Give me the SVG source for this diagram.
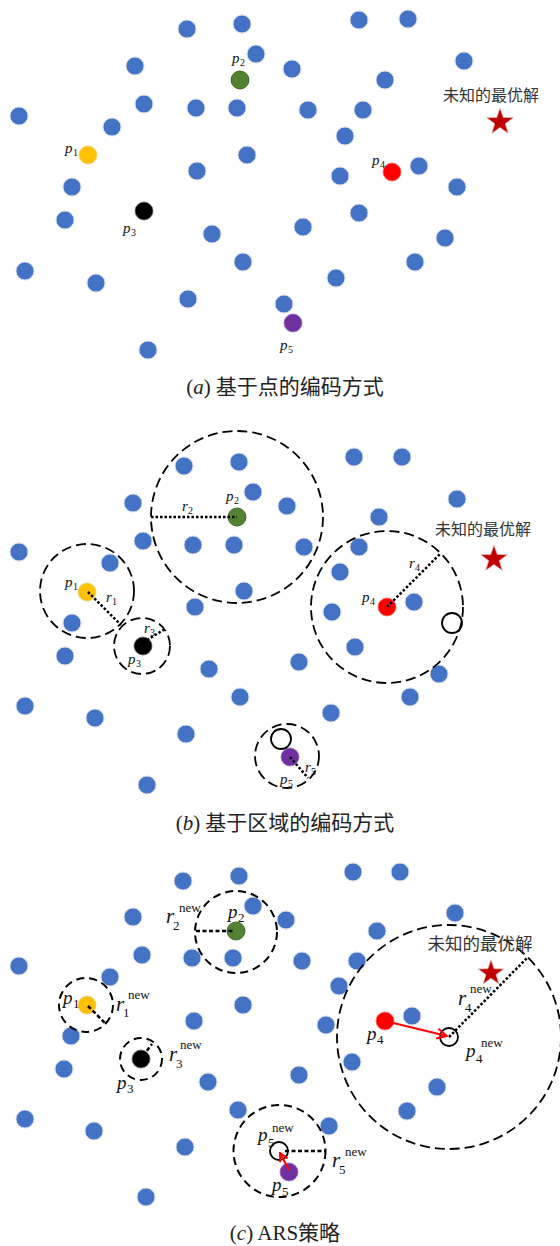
<svg xmlns="http://www.w3.org/2000/svg" width="560" height="1246" viewBox="0 0 560 1246">
<style>
.b{fill:#4472C4;stroke:#d3dbe9;stroke-width:1}
.g{fill:#548235;stroke:#3f6a27;stroke-width:1}
.y{fill:#FFC000;stroke:#f3d27a;stroke-width:1}
.r{fill:#FF0000;stroke:#ff6a6a;stroke-width:0.8}
.pu{fill:#7030A0;stroke:#9a6ac0;stroke-width:0.8}
.k{fill:#000;stroke:#666;stroke-width:0.8}
.o{fill:none;stroke:#000;stroke-width:1.8}
.dc{fill:none;stroke:#000;stroke-width:1.8;stroke-dasharray:10 5}
.dcs{fill:none;stroke:#000;stroke-width:2;stroke-dasharray:8 5}
.dt{stroke:#000;stroke-width:2.5;stroke-dasharray:2.5 2;fill:none}
.ds{stroke:#000;stroke-width:2.5;stroke-dasharray:4 2.5;fill:none}
.ar{stroke:#FF0000;stroke-width:2;fill:none}
.it{font-family:"Liberation Serif",serif;font-style:italic;font-size:15px;fill:#111}
.sb{font-family:"Liberation Serif",serif;font-size:10px;fill:#111}
.it2{font-family:"Liberation Serif",serif;font-style:italic;font-size:19px;fill:#111}
.ir{font-family:"Liberation Serif",serif;font-style:italic;font-size:21px;fill:#111}
.sb2{font-family:"Liberation Serif",serif;font-size:13px;fill:#111}
.nw{font-family:"Liberation Serif",serif;font-size:13px;fill:#111}
.cap{font-family:"Liberation Serif","Noto Sans CJK SC",sans-serif;font-size:21px;fill:#222}
.zh{font-family:"Noto Sans CJK SC",sans-serif;font-size:16px;fill:#333}
.st{fill:#C00000;stroke:#e6b3b3;stroke-width:0.8}
</style>
<defs>
<polygon id="star" points="0,-14 3.29,-4.53 13.32,-4.33 5.33,1.73 8.23,11.33 0,5.6 -8.23,11.33 -5.33,1.73 -13.32,-4.33 -3.29,-4.53"/>
<marker id="ah" viewBox="0 0 12 12" refX="11" refY="6" markerWidth="12" markerHeight="12" markerUnits="userSpaceOnUse" orient="auto"><path d="M1,1 L11,6 L1,11" fill="none" stroke="#FF0000" stroke-width="2"/></marker>
<marker id="ah2" viewBox="0 0 12 12" refX="11" refY="6" markerWidth="10" markerHeight="10" markerUnits="userSpaceOnUse" orient="auto"><path d="M1,1 L11,6 L1,11" fill="none" stroke="#FF0000" stroke-width="2.4"/></marker>
</defs>
<rect width="560" height="1246" fill="#fff"/>

<!-- ===== Panel (a) ===== -->
<g id="panel-a">
<g id="a-blue" class="b">
<circle cx="187" cy="29" r="9"/><circle cx="242" cy="24" r="9"/><circle cx="359" cy="20" r="9"/><circle cx="408" cy="19" r="9"/>
<circle cx="256" cy="54" r="9"/><circle cx="135" cy="66" r="9"/><circle cx="292" cy="69" r="9"/><circle cx="464" cy="61" r="9"/>
<circle cx="385" cy="80" r="9"/><circle cx="19" cy="116" r="9"/><circle cx="144" cy="104" r="9"/><circle cx="196" cy="108" r="9"/>
<circle cx="237" cy="108" r="9"/><circle cx="308" cy="110" r="9"/><circle cx="363" cy="110" r="9"/><circle cx="112" cy="127" r="9"/>
<circle cx="345" cy="136" r="9"/><circle cx="247" cy="155" r="9"/><circle cx="419" cy="166" r="9"/><circle cx="197" cy="171" r="9"/>
<circle cx="340" cy="176" r="9"/><circle cx="457" cy="187" r="9"/><circle cx="72" cy="187" r="9"/><circle cx="65" cy="220" r="9"/>
<circle cx="212" cy="234" r="9"/><circle cx="303" cy="227" r="9"/><circle cx="359" cy="213" r="9"/><circle cx="445" cy="238" r="9"/>
<circle cx="415" cy="262" r="9"/><circle cx="243" cy="262" r="9"/><circle cx="336" cy="278" r="9"/><circle cx="25" cy="271" r="9"/>
<circle cx="96" cy="283" r="9"/><circle cx="188" cy="299" r="9"/><circle cx="284" cy="304" r="9"/><circle cx="148" cy="350" r="9"/>
</g>
<g id="a-p1"><circle class="y" cx="88" cy="155" r="9"/><text class="it" x="65" y="153">p</text><text class="sb" x="73" y="156">1</text></g>
<g id="a-p2"><circle class="g" cx="240" cy="80" r="9"/><text class="it" x="232" y="63">p</text><text class="sb" x="240" y="66">2</text></g>
<g id="a-p3"><circle class="k" cx="144" cy="211" r="9"/><text class="it" x="123" y="233">p</text><text class="sb" x="131" y="236">3</text></g>
<g id="a-p4"><circle class="r" cx="392" cy="172" r="9"/><text class="it" x="372" y="165">p</text><text class="sb" x="380" y="168">4</text></g>
<g id="a-p5"><circle class="pu" cx="293" cy="323" r="9"/><text class="it" x="280" y="350">p</text><text class="sb" x="288" y="353">5</text></g>
<g id="a-opt"><use href="#star" class="st" transform="translate(500,122)"/><text class="zh" x="491" y="101" text-anchor="middle">未知的最优解</text></g>
<text id="cap-a" class="cap" x="285" y="394" text-anchor="middle">(<tspan font-style="italic">a</tspan>) 基于点的编码方式</text>
</g>

<!-- ===== Panel (b) ===== -->
<g id="panel-b">
<g id="b-blue" class="b">
<circle cx="184" cy="466" r="9"/><circle cx="239" cy="462" r="9"/><circle cx="354" cy="457" r="9"/><circle cx="402" cy="457" r="9"/>
<circle cx="253" cy="492" r="9"/><circle cx="133" cy="503" r="9"/><circle cx="287" cy="506" r="9"/><circle cx="457" cy="499" r="9"/>
<circle cx="379" cy="517" r="9"/><circle cx="19" cy="552" r="9"/><circle cx="143" cy="541" r="9"/><circle cx="193" cy="545" r="9"/>
<circle cx="234" cy="545" r="9"/><circle cx="304" cy="547" r="9"/><circle cx="359" cy="547" r="9"/><circle cx="110" cy="563" r="9"/>
<circle cx="340" cy="572" r="9"/><circle cx="244" cy="591" r="9"/><circle cx="414" cy="602" r="9"/><circle cx="195" cy="607" r="9"/>
<circle cx="332" cy="612" r="9"/><circle cx="72" cy="623" r="9"/><circle cx="65" cy="656" r="9"/>
<circle cx="209" cy="669" r="9"/><circle cx="299" cy="662" r="9"/><circle cx="355" cy="647" r="9"/><circle cx="439" cy="674" r="9"/>
<circle cx="410" cy="697" r="9"/><circle cx="240" cy="697" r="9"/><circle cx="331" cy="713" r="9"/><circle cx="25" cy="706" r="9"/>
<circle cx="95" cy="718" r="9"/><circle cx="186" cy="734" r="9"/><circle cx="147" cy="785" r="9"/>
</g>
<g id="b-p1"><circle class="dc" cx="87" cy="591" r="47"/><circle class="y" cx="87" cy="592" r="9"/><text class="it" x="65" y="587">p</text><text class="sb" x="73" y="590">1</text><text class="it" x="106" y="602">r</text><text class="sb" x="112" y="605">1</text></g>
<g id="b-p2"><circle class="dc" cx="237" cy="517" r="86"/><circle class="g" cx="237" cy="517" r="9"/><text class="it" x="226" y="501">p</text><text class="sb" x="234" y="504">2</text><text class="it" x="182" y="511">r</text><text class="sb" x="188" y="514">2</text></g>
<g id="b-p3"><circle class="dc" cx="142" cy="646" r="28"/><circle class="k" cx="143" cy="646" r="9"/><text class="it" x="128" y="664">p</text><text class="sb" x="136" y="667">3</text><text class="it" x="144" y="633">r</text><text class="sb" x="150" y="636">3</text></g>
<g id="b-p4"><circle class="dc" cx="387" cy="607" r="76"/><circle class="r" cx="387" cy="607" r="9"/><text class="it" x="362" y="602">p</text><text class="sb" x="370" y="605">4</text><text class="it" x="409" y="568">r</text><text class="sb" x="415" y="571">4</text></g>
<g id="b-p5"><circle class="dc" cx="287" cy="756" r="32"/><circle class="pu" cx="290" cy="757" r="9"/><text class="it" x="280" y="784">p</text><text class="sb" x="288" y="787">5</text><text class="it" x="305" y="772">r</text><text class="sb" x="311" y="775">5</text></g>
<g id="b-cand1"><circle class="o" cx="452" cy="623" r="10"/></g>
<g id="b-cand2"><circle class="o" cx="281" cy="739" r="10"/></g>
<g id="b-opt"><use href="#star" class="st" transform="translate(494,559)"/><text class="zh" x="483" y="535" text-anchor="middle">未知的最优解</text></g>
<g id="b-connectors">
<line class="dt" x1="88" y1="592" x2="121" y2="625"/>
<line class="dt" x1="151" y1="517" x2="237" y2="517"/>
<line class="dt" x1="147" y1="640" x2="165" y2="629"/>
<line class="dt" x1="387" y1="607" x2="441" y2="553"/>
<line class="dt" x1="290" y1="757" x2="308" y2="778"/>
</g>
<text id="cap-b" class="cap" x="285" y="830" text-anchor="middle">(<tspan font-style="italic">b</tspan>) 基于区域的编码方式</text>
</g>

<!-- ===== Panel (c) ===== -->
<g id="panel-c">
<g id="c-blue" class="b">
<circle cx="183" cy="881" r="9"/><circle cx="239" cy="876" r="9"/><circle cx="353" cy="872" r="9"/><circle cx="400" cy="872" r="9"/>
<circle cx="253" cy="906" r="9"/><circle cx="133" cy="917" r="9"/><circle cx="286" cy="920" r="9"/><circle cx="455" cy="913" r="9"/>
<circle cx="377" cy="931" r="9"/><circle cx="19" cy="966" r="9"/><circle cx="142" cy="955" r="9"/><circle cx="192" cy="958" r="9"/>
<circle cx="233" cy="958" r="9"/><circle cx="302" cy="961" r="9"/><circle cx="357" cy="961" r="9"/><circle cx="110" cy="977" r="9"/>
<circle cx="339" cy="986" r="9"/><circle cx="243" cy="1005" r="9"/><circle cx="412" cy="1016" r="9"/><circle cx="194" cy="1021" r="9"/>
<circle cx="326" cy="1025" r="9"/><circle cx="71" cy="1036" r="9"/><circle cx="64" cy="1069" r="9"/>
<circle cx="208" cy="1082" r="9"/><circle cx="299" cy="1075" r="9"/><circle cx="352" cy="1062" r="9"/><circle cx="437" cy="1087" r="9"/>
<circle cx="407" cy="1111" r="9"/><circle cx="238" cy="1110" r="9"/><circle cx="329" cy="1126" r="9"/><circle cx="25" cy="1119" r="9"/>
<circle cx="94" cy="1131" r="9"/><circle cx="185" cy="1147" r="9"/><circle cx="146" cy="1197" r="9"/>
</g>
<g id="c-p1"><circle class="dcs" cx="86" cy="1005" r="27"/><circle class="y" cx="87" cy="1005" r="9"/><text class="it2" x="63" y="1004">p</text><text class="sb2" x="73" y="1008">1</text>
<text class="ir" x="116" y="1011">r</text><text class="sb2" x="123" y="1017">1</text><text class="nw" x="128" y="999">new</text></g>
<g id="c-p2"><circle class="dcs" cx="236" cy="932" r="41"/><circle class="g" cx="236" cy="931" r="9"/><text class="it2" x="228" y="918">p</text><text class="sb2" x="238" y="922">2</text>
<text class="ir" x="166" y="923">r</text><text class="sb2" x="173" y="930">2</text><text class="nw" x="179" y="912">new</text></g>
<g id="c-p3"><circle class="dcs" cx="141" cy="1059" r="21"/><circle class="k" cx="141" cy="1059" r="9"/><text class="it2" x="117" y="1089">p</text><text class="sb2" x="127" y="1093">3</text>
<text class="ir" x="169" y="1061">r</text><text class="sb2" x="176" y="1068">3</text><text class="nw" x="180" y="1049">new</text></g>
<g id="c-p4"><circle class="r" cx="385" cy="1021" r="9"/><text class="it2" x="367" y="1040">p</text><text class="sb2" x="377" y="1044">4</text></g>
<g id="c-p4new"><circle class="dc" cx="449" cy="1037" r="112"/><circle class="o" cx="449" cy="1037" r="9" stroke-width="2"/><text class="it2" x="466" y="1057">p</text><text class="sb2" x="476" y="1063">4</text><text class="nw" x="481" y="1047">new</text>
<text class="ir" x="458" y="1005">r</text><text class="sb2" x="465" y="1012">4</text><text class="nw" x="470" y="993">new</text></g>
<g id="c-p5"><circle class="pu" cx="289" cy="1172" r="9"/><text class="it2" x="272" y="1191">p</text><text class="sb2" x="282" y="1196">5</text></g>
<g id="c-p5new"><circle class="dcs" cx="279.5" cy="1151" r="46"/><circle class="o" cx="279" cy="1151" r="9" stroke-width="2"/><text class="it2" x="258" y="1141">p</text><text class="sb2" x="268" y="1147">5</text><text class="nw" x="272" y="1132">new</text>
<text class="ir" x="332" y="1167">r</text><text class="sb2" x="339" y="1174">5</text><text class="nw" x="345" y="1156">new</text></g>
<g id="c-opt"><use href="#star" class="st" transform="translate(491,973) scale(0.95)"/><text class="zh" x="480" y="950" text-anchor="middle" style="font-size:17.5px">未知的最优解</text></g>
<g id="c-connectors">
<line class="ds" x1="88" y1="1006" x2="106" y2="1024"/>
<line class="ds" x1="196" y1="931" x2="234" y2="931"/>
<line class="ds" x1="143" y1="1056" x2="152" y2="1044"/>
<line class="dt" x1="449" y1="1037" x2="527" y2="958"/>
<line class="ds" x1="285" y1="1151" x2="325" y2="1151"/>
<line class="ar" x1="385" y1="1021" x2="447" y2="1036" marker-end="url(#ah)"/>
<line class="ar" x1="289" y1="1170" x2="280" y2="1153" marker-end="url(#ah2)"/>
</g>
<text id="cap-c" class="cap" x="285" y="1240" text-anchor="middle">(<tspan font-style="italic">c</tspan>) ARS策略</text>
</g>
</svg>
